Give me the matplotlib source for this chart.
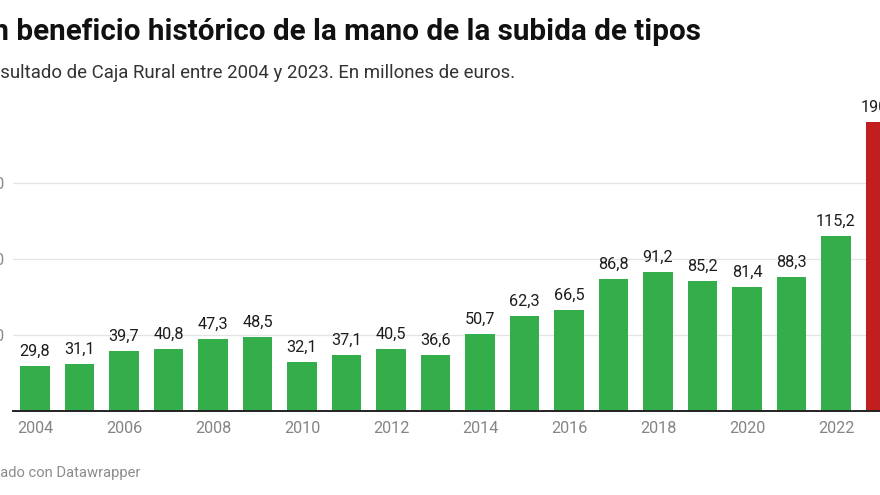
import matplotlib
matplotlib.use("Agg")
import matplotlib.pyplot as plt

plt.rcParams['font.family'] = ['Roboto', 'DejaVu Sans']

years = list(range(2004, 2024))
values = [29.8, 31.1, 39.7, 40.8, 47.3, 48.5, 32.1, 37.1, 40.5, 36.6,
          50.7, 62.3, 66.5, 86.8, 91.2, 85.2, 81.4, 88.3, 115.2, 190.2]
labels = ['29,8', '31,1', '39,7', '40,8', '47,3', '48,5', '32,1', '37,1', '40,5', '36,6',
          '50,7', '62,3', '66,5', '86,8', '91,2', '85,2', '81,4', '88,3', '115,2', '190,2']
tick_years = list(range(2004, 2023, 2))
grid_values = [50, 100, 150]
GREEN, RED = '#33ae4b', '#c11f1f'
colors = [GREEN] * 19 + [RED]

W, H = 880, 495
fig = plt.figure(figsize=(W / 100, H / 100), dpi=100, facecolor='white')
# plot area in pixels: baseline y=411, 76 px per 50 units
left, right, base, top = 13, 880, 411, 107
ax = fig.add_axes([left / W, 1 - base / H, (right - left) / W, (base - top) / H])
step = 44.5
x0 = 2004 + (left - 35) / step
ax.set_xlim(x0, x0 + (right - left) / step)
ax.set_ylim(0, (base - top) / 1.52)

ax.bar(years, values, width=29.5 / step, color=colors, zorder=2, linewidth=0)
for y, v, t in zip(years, values, labels):
    ax.annotate(t, (y, v), xytext=(0, 5.2), textcoords='offset points', ha='center',
                va='bottom', fontsize=11.7, color='#1d1d1d', annotation_clip=False, zorder=3)

for s in ax.spines.values():
    s.set_visible(False)
ax.spines['bottom'].set_visible(True)
ax.spines['bottom'].set_linewidth(1.4)
ax.spines['bottom'].set_color('#222222')
ax.spines['bottom'].set_zorder(4)

ax.set_yticks(grid_values)
ax.set_yticklabels([str(v) for v in grid_values], fontsize=11.7, color='#8a8a8a')
ax.tick_params(axis='y', length=0, pad=5.8)
ax.grid(axis='y', color='#e4e4e4', linewidth=0.9, zorder=0)
ax.set_axisbelow(True)

ax.set_xticks(tick_years)
ax.set_xticklabels([str(y) for y in tick_years], fontsize=11.7, color='#858585')
ax.tick_params(axis='x', length=0, pad=7)

fig.text(-26.7 / W, 1 - 32 / H, 'Un beneficio histórico de la mano de la subida de tipos',
         fontsize=21.37, fontweight='bold', color='#111111', va='center', ha='left')
fig.text(-21 / W, 1 - 72.5 / H, 'Resultado de Caja Rural entre 2004 y 2023. En millones de euros.',
         fontsize=13.45, color='#333333', va='center', ha='left')
fig.text(-22 / W, 1 - 472.5 / H, 'Creado con Datawrapper',
         fontsize=10.6, color='#8c8c8c', va='center', ha='left')

fig.savefig('out.png', dpi=100)
